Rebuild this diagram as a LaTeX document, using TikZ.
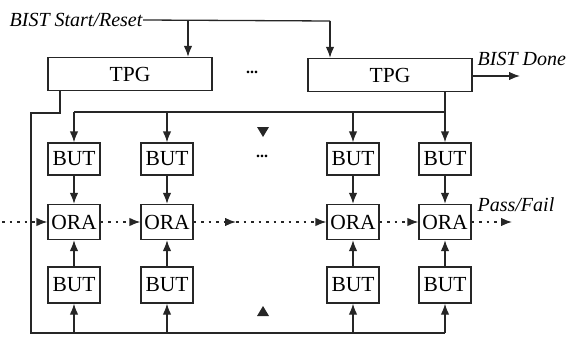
\documentclass[tikz,border=0pt]{standalone}
\usepackage{fontspec}
\setmainfont{Liberation Serif}
\usetikzlibrary{arrows.meta}
\begin{document}
\begin{tikzpicture}[x=1pt,y=-1pt,
  line width=1.3pt, draw=black!85,
  >={Latex[length=11pt,width=8.5pt]},
  blk/.style={draw, line width=1.3pt, inner sep=0pt, minimum width=52pt, font=\fontsize{21.5}{24}\selectfont},
  tpgbox/.style={draw, line width=1.3pt, inner sep=0pt, minimum width=164pt, minimum height=33pt, font=\fontsize{21.5}{24}\selectfont},
  lbl/.style={font=\fontsize{20}{23}\selectfont\itshape, inner sep=0pt},
  ell/.style={font=\fontsize{16}{18}\selectfont\bfseries},
  dots/.style={dash pattern=on 2.5pt off 5pt},
  tri/.style={fill=black!85, draw=none}]
\useasboundingbox (0,0) rectangle (568,337);
% TPGs
\node[tpgbox] (tpg1) at (130,74) {TPG};
\node[tpgbox] (tpg2) at (390,75) {TPG};
\node[ell] (d1) at (252,72) {...};
% labels
\node[lbl, anchor=west] (start) at (9,20) {BIST Start/Reset};
\node[lbl, anchor=west] (done) at (477,59) {BIST Done};
\node[lbl, anchor=west] (pf) at (477,205) {Pass/Fail};
% columns
\foreach \n/\x in {1/74,2/167,4/353,5/445}{
  \node[blk, minimum height=32pt] (tb\n) at (\x,159) {BUT};
  \node[blk, minimum height=35pt] (ora\n) at (\x,222) {ORA};
  \node[blk, minimum height=36pt] (bb\n) at (\x,285) {BUT};
  \draw[->] (tb\n) -- (ora\n);
  \draw[->] (bb\n) -- (ora\n);
}
\node[ell] (d2) at (262,156) {...};
% start/reset distribution
\coordinate (s1) at (188,21);
\coordinate (s2) at (330,21);
\draw (start.east) -- (s2);
\draw[->] (s2) -- (tpg2.north -| s2);
\draw[->] (s1) -- (tpg1.north -| s1);
% done
\draw[->] (tpg2.east |- 0,76) -- (520,76);
% TPG1 bottom-side bus
\coordinate (a1) at (60,113);
\coordinate (a2) at (31,113);
\coordinate (a3) at (31,333);
\coordinate (a4) at (445,333);
\draw (tpg1.south -| a1) -- (a1) -- (a2) -- (a3) -- (a4);
\foreach \n in {1,2,4,5}{ \draw[->] (bb\n.south |- a3) -- (bb\n.south); }
% TPG2 top-side bus
\coordinate (b1) at (74,112);
\coordinate (b2) at (445,112);
\draw (b1) -- (b2);
\draw[->] (tpg2.south -| b2) -- (tb5.north);
\foreach \n in {1,2,4}{ \draw[->] (tb\n.north |- b1) -- (tb\n.north); }
% isolated arrowheads
\fill[tri] (257,127) -- (269,127) -- (263,137) -- cycle;
\fill[tri] (257,316) -- (269,316) -- (263,306) -- cycle;
% dotted ORA chain
\coordinate (in) at (2,222);
\coordinate (mid) at (236,222);
\coordinate (out) at (512,222);
\draw[dots,->] (in) -- (ora1.west);
\draw[dots,->] (ora1.east) -- (ora2.west);
\draw[dots,->] (ora2.east) -- (mid);
\draw[dots,->] (mid) -- (ora4.west);
\draw[dots,->] (ora4.east) -- (ora5.west);
\draw[dots,->] (ora5.east) -- (out);
\end{tikzpicture}
\end{document}
